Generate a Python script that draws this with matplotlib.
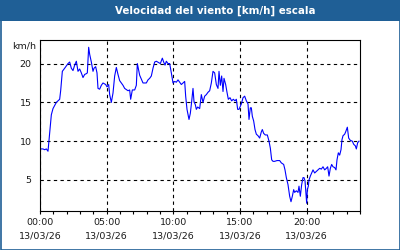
import numpy as np
import matplotlib
matplotlib.use("Agg")
import matplotlib.pyplot as plt
from matplotlib.patches import Rectangle

# hours since 00:00 on 13/03/26 and wind speed in km/h
hours = [0.0, 0.225, 0.35, 0.475, 0.6, 0.725, 0.85, 0.975, 1.225, 1.475, 1.55, 1.675,
         1.85, 2.1, 2.225, 2.35, 2.475, 2.6, 2.725, 2.85, 2.975, 3.1, 3.225, 3.35,
         3.475, 3.55, 3.65, 3.725, 3.85, 3.975, 4.05, 4.175, 4.275, 4.35, 4.475, 4.6,
         4.725, 4.925, 5.025, 5.15, 5.225, 5.35, 5.475, 5.6, 5.725, 5.85, 5.975, 6.225,
         6.35, 6.6, 6.725, 6.8, 6.925, 7.1, 7.225, 7.3, 7.425, 7.475, 7.6, 7.725,
         7.975, 8.1, 8.225, 8.35, 8.475, 8.6, 8.725, 8.925, 9.025, 9.175, 9.275, 9.375,
         9.475, 9.6, 9.725, 9.85, 9.975, 10.1, 10.225, 10.35, 10.475, 10.6, 10.725, 10.85,
         10.925, 11.025, 11.175, 11.275, 11.375, 11.475, 11.55, 11.65, 11.725, 11.825, 11.975,
         12.1, 12.225, 12.35, 12.475, 12.6, 12.725, 12.85, 12.975, 13.1, 13.225, 13.35,
         13.425, 13.525, 13.625, 13.725, 13.8, 13.925, 14.025, 14.125, 14.25, 14.375, 14.5,
         14.625, 14.725, 14.825, 14.925, 15.1, 15.225, 15.35, 15.475, 15.6, 15.675, 15.775,
         15.85, 15.925, 16.025, 16.125, 16.225, 16.35, 16.475, 16.6, 16.675, 16.775, 16.9,
         17.05, 17.175, 17.275, 17.375, 17.475, 17.6, 17.775, 17.975, 18.1, 18.275, 18.375,
         18.475, 18.6, 18.725, 18.825, 18.925, 19.025, 19.1, 19.225, 19.35, 19.425, 19.525,
         19.625, 19.725, 19.8, 19.875, 19.925, 20.0, 20.05, 20.125, 20.175, 20.275, 20.375,
         20.475, 20.6, 20.725, 20.85, 20.975, 21.1, 21.225, 21.35, 21.475, 21.575, 21.675,
         21.775, 21.875, 21.975, 22.1, 22.2, 22.275, 22.375, 22.475, 22.575, 22.65, 22.725,
         22.85, 22.925, 23.05, 23.15, 23.275, 23.425, 23.525, 23.65, 23.725, 23.825, 23.925]
speed = [9.0, 9.0, 8.9, 9.0, 8.7, 11.1, 13.4, 14.2, 15.0, 15.4, 16.5, 19.0,
         19.4, 20.0, 20.2, 19.4, 19.1, 19.8, 20.3, 19.0, 19.3, 18.8, 18.2, 18.6,
         18.7, 18.8, 22.1, 21.2, 20.2, 19.0, 19.4, 19.6, 18.8, 16.8, 16.7, 17.2,
         17.5, 17.3, 17.0, 17.3, 16.0, 15.0, 16.2, 18.4, 19.5, 18.6, 17.8, 17.2,
         16.8, 16.5, 16.6, 15.4, 16.6, 16.6, 17.2, 20.0, 18.9, 18.5, 18.0, 17.5,
         17.5, 17.9, 18.1, 18.4, 19.4, 20.2, 20.3, 20.1, 20.0, 20.7, 20.2, 19.8,
         20.3, 20.0, 20.0, 18.8, 17.5, 17.7, 17.6, 17.9, 17.6, 17.3, 17.5, 17.7,
         15.8, 14.1, 12.8, 13.6, 15.1, 16.8, 15.1, 14.7, 14.1, 14.4, 14.2,
         16.0, 15.0, 15.8, 16.0, 16.3, 16.5, 17.5, 19.0, 18.8, 17.3, 16.8,
         19.0, 17.2, 18.4, 16.4, 18.1, 17.3, 16.3, 15.4, 15.6, 15.2, 15.4,
         15.2, 15.4, 14.1, 14.1, 14.8, 15.6, 15.8, 15.2, 14.8, 12.8, 14.3,
         14.3, 13.2, 12.6, 11.5, 10.9, 10.7, 10.4, 11.2, 11.5, 11.0, 10.8,
         10.8, 10.0, 9.1, 7.6, 7.4, 7.4, 7.5, 7.5, 7.2, 7.0, 6.3,
         5.3, 4.4, 2.9, 2.2, 2.9, 3.75, 3.4, 3.6, 3.4, 4.2, 2.9,
         4.4, 5.3, 5.3, 4.9, 3.75, 2.0, 3.75, 4.2, 5.0, 5.5, 5.9,
         6.3, 5.9, 6.1, 6.3, 6.5, 6.4, 6.7, 6.3, 6.5, 6.7, 5.5,
         6.5, 7.0, 6.7, 6.6, 6.3, 7.6, 8.5, 8.2, 8.9, 10.2, 10.7,
         10.9, 11.2, 11.8, 10.4, 10.1, 10.0, 9.6, 9.4, 9.0, 9.8, 10.0]

tick_hours = [0, 5, 10, 15, 20]
tick_labels = ["00:00\n13/03/26", "05:00\n13/03/26", "10:00\n13/03/26",
               "15:00\n13/03/26", "20:00\n13/03/26"]
y_ticks = [5, 10, 15, 20]

plt.rcParams['font.family'] = ['DejaVu Sans']
bar_blue = '#1f5f96'
txt = '#1a1a1a'

fig = plt.figure(figsize=(4, 2.5), dpi=100)
fig.patch.set_facecolor('white')

# title bar and thin frame round the picture
fig.patches.append(Rectangle((0, 1 - 21/250), 1, 21/250, transform=fig.transFigure,
                             facecolor=bar_blue, edgecolor='none', zorder=0))
fig.patches.append(Rectangle((0.5/400, 0.5/250), 399/400, 249/250, transform=fig.transFigure,
                             facecolor='none', edgecolor=bar_blue, linewidth=1.2, zorder=5))
fig.text(215/400, 1 - 11/250, "Velocidad del viento [km/h] escala", color='white',
         fontsize=7.4, fontweight='bold', ha='center', va='center')

ax = fig.add_axes([40/400, 39/250, 320/400, 170.7/250])
ax.plot(hours, speed, color='#0000ff', linewidth=0.8)

ax.set_xlim(0, 24)
ax.set_ylim(1, 23)
ax.set_xticks(tick_hours)
ax.set_xticklabels(tick_labels, fontsize=6.8, color=txt, linespacing=1.55)
ax.set_xticks(np.arange(0, 25, 1), minor=True)
ax.set_yticks(y_ticks)
ax.set_yticklabels([str(v) for v in y_ticks], fontsize=6.8, color=txt)
ax.tick_params(axis='x', which='both', direction='out', length=2.2, width=0.8, pad=3)
ax.tick_params(axis='y', length=0, pad=6)
ax.grid(True, color='black', linestyle=(0, (3, 3)), linewidth=0.8)
for s in ax.spines.values():
    s.set_linewidth(0.8)

fig.text(24/400, 1 - 46/250, "km/h", fontsize=6.8, color=txt, ha='center', va='center')

fig.savefig('out.png', dpi=100)
